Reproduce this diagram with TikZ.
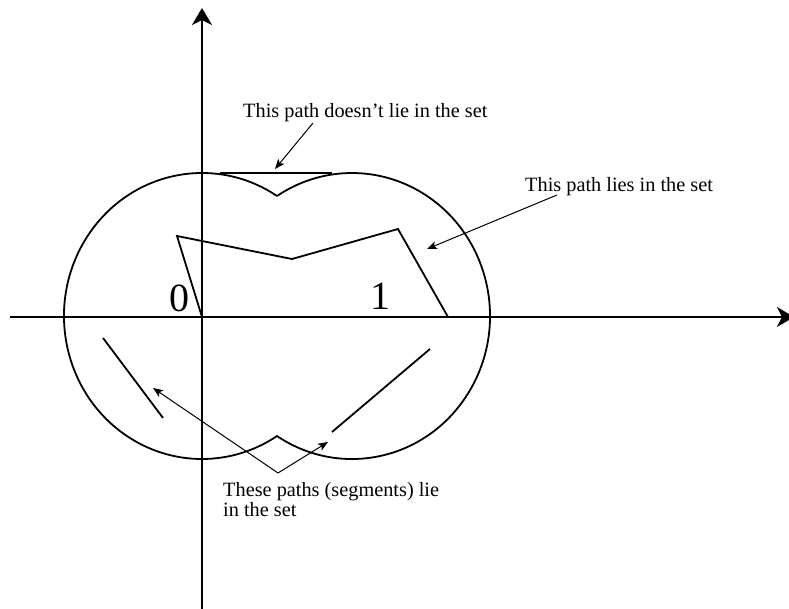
\documentclass[tikz,border=0pt]{standalone}
\usepackage{fontspec}
\setmainfont{Liberation Serif}
\usetikzlibrary{arrows.meta}
\begin{document}
\begin{tikzpicture}[x=1pt,y=1pt,
  thickline/.style={line width=1.8pt},
  axis/.style={line width=1.8pt,-{Stealth[length=17pt,width=20pt,inset=5pt]}},
  pointer/.style={line width=1pt,-{Stealth[length=10pt,width=8pt,inset=2.5pt]}},
  lbl/.style={font=\fontsize{20.3}{24}\selectfont, inner sep=0pt, anchor=base west},
  num/.style={font=\fontsize{40}{48}\selectfont, inner sep=0pt, anchor=base}]
\useasboundingbox (0,0) rectangle (789,609);
% axes
\coordinate (xs) at (10,292);
\coordinate (xe) at (794,292);
\coordinate (ys) at (202,-5);
\coordinate (ye) at (202,601);
\draw[axis] (xs) -- (xe);
\draw[axis] (ys) -- (ye);
% boundary of the set (union of two discs)
\coordinate (ct) at (277,413);
\draw[thickline] (ct) arc[start angle=57.07, end angle=302.93, x radius=138pt, y radius=143pt]
  arc[start angle=237.07, end angle=482.93, x radius=138pt, y radius=143pt];
% polygonal path inside the set
\coordinate (O) at (202,292);
\coordinate (p1) at (177,373);
\coordinate (p2) at (292,350);
\coordinate (p3) at (398,380);
\coordinate (p4) at (448,292);
\draw[thickline, line join=miter] (O) -- (p1) -- (p2) -- (p3) -- (p4);
% top segment (not in the set)
\coordinate (s1a) at (220,436);
\coordinate (s1b) at (332,436);
\draw[thickline] (s1a) -- (s1b);
% bottom segments
\coordinate (s2a) at (103,271);
\coordinate (s2b) at (163,191);
\draw[thickline] (s2a) -- (s2b);
\coordinate (s3a) at (430,260);
\coordinate (s3b) at (332,177);
\draw[thickline] (s3a) -- (s3b);
% labels
\node[lbl] (t1) at (243,491) {This path doesn’t lie in the set};
\node[lbl] (t2) at (525,417) {This path lies in the set};
\node[lbl] (t3) at (223,112) {These paths (segments) lie};
\node[lbl] (t4) at (223,92) {in the set};
\node[num] (n0) at (179,297) {0};
\node[num] (n1) at (380,299) {1};
% pointers
\coordinate (a1s) at (313,486);
\coordinate (a1e) at (275,440);
\draw[pointer] (a1s) -- (a1e);
\coordinate (a2s) at (557,414);
\coordinate (a2e) at (427,360);
\draw[pointer] (a2s) -- (a2e);
\coordinate (v) at (278,136);
\coordinate (a3e) at (153,221);
\coordinate (a4e) at (328,167);
\draw[pointer] (v) -- (a3e);
\draw[pointer] (v) -- (a4e);
\end{tikzpicture}
\end{document}
